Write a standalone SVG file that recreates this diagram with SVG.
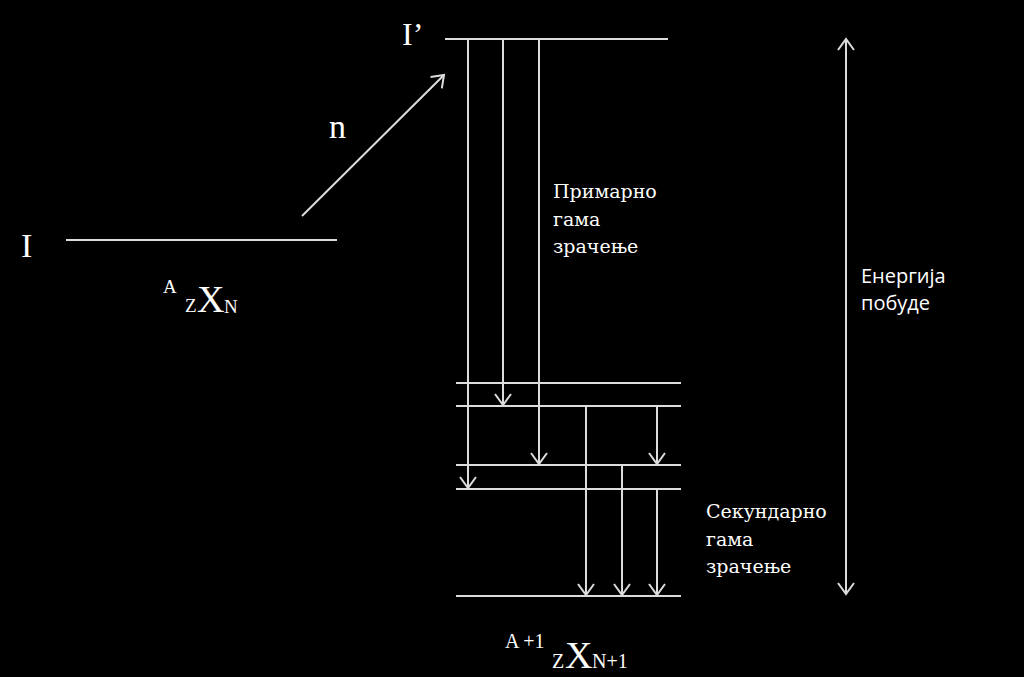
<svg xmlns="http://www.w3.org/2000/svg" width="1024" height="677" viewBox="0 0 1024 677">
<defs>
<style>
.lvl{stroke:#dcdcdc;stroke-width:2;fill:none}
.con{stroke:#dcdcdc;stroke-width:2;fill:none}
.ser{font-family:"Liberation Serif","Times New Roman",serif;fill:#ffffff}
.cyr{font-family:"DejaVu Serif","Liberation Serif",serif;fill:#ffffff}
.sans{font-family:"Open Sans","Liberation Sans",Arial,sans-serif;fill:#ffffff}
</style>
<marker id="ah" markerUnits="userSpaceOnUse" markerWidth="24" markerHeight="24" viewBox="-12 -12 24 24" refX="0" refY="0" orient="auto-start-reverse">
<path d="M -11 -8 L 0 0 L -11 8" stroke="#dcdcdc" stroke-width="2" fill="none"/>
</marker>
</defs>
<rect width="1024" height="677" fill="#000000"/>

<g id="level-I">
<line class="lvl" x1="66" y1="240" x2="337" y2="240"/>
<text class="ser" x="21" y="257" font-size="34">I</text>
<text class="ser" x="163" y="293" font-size="19">A</text>
<text class="ser" x="185" y="312" font-size="19">Z</text>
<text class="ser" x="197" y="312" font-size="38">X</text>
<text class="ser" x="224" y="313" font-size="19">N</text>
</g>

<g id="level-Iprime">
<line class="lvl" x1="445" y1="39" x2="668" y2="39"/>
<text class="ser" x="402" y="45" font-size="32">I’</text>
</g>

<g id="levels-lower">
<line class="lvl" x1="456" y1="383" x2="681" y2="383"/>
<line class="lvl" x1="456" y1="406" x2="681" y2="406"/>
<line class="lvl" x1="456" y1="465" x2="681" y2="465"/>
<line class="lvl" x1="456" y1="489" x2="681" y2="489"/>
<line class="lvl" x1="456" y1="596" x2="681" y2="596"/>
<text class="ser" x="505" y="648" font-size="20">A +1</text>
<text class="ser" x="552" y="668" font-size="20">Z</text>
<text class="ser" x="565" y="668" font-size="38">X</text>
<text class="ser" x="592" y="668" font-size="20">N+1</text>
</g>

<g id="label-n">
<text class="ser" x="329" y="138" font-size="34">n</text>
</g>

<g id="label-primary">
<text class="cyr" font-size="19"><tspan x="553" y="198">Примарно</tspan><tspan x="553" y="226">гама</tspan><tspan x="553" y="253">зрачење</tspan></text>
</g>

<g id="label-secondary">
<text class="cyr" font-size="19"><tspan x="706" y="518">Секундарно</tspan><tspan x="706" y="546">гама</tspan><tspan x="706" y="573">зрачење</tspan></text>
</g>

<g id="label-energy">
<text class="sans" font-size="20"><tspan x="861" y="283">Енергија</tspan><tspan x="861" y="310">побуде</tspan></text>
</g>

<g id="connectors">
<line class="con" x1="302" y1="216" x2="444" y2="75" marker-end="url(#ah)"/>
<line class="con" x1="468" y1="39" x2="468" y2="488" marker-end="url(#ah)"/>
<line class="con" x1="503" y1="39" x2="503" y2="405" marker-end="url(#ah)"/>
<line class="con" x1="539" y1="39" x2="539" y2="464" marker-end="url(#ah)"/>
<line class="con" x1="586" y1="406" x2="586" y2="595" marker-end="url(#ah)"/>
<line class="con" x1="622" y1="465" x2="622" y2="595" marker-end="url(#ah)"/>
<line class="con" x1="657" y1="406" x2="657" y2="464" marker-end="url(#ah)"/>
<line class="con" x1="657" y1="489" x2="657" y2="595" marker-end="url(#ah)"/>
<line class="con" x1="846" y1="39" x2="846" y2="594" marker-start="url(#ah)" marker-end="url(#ah)"/>
</g>
</svg>
